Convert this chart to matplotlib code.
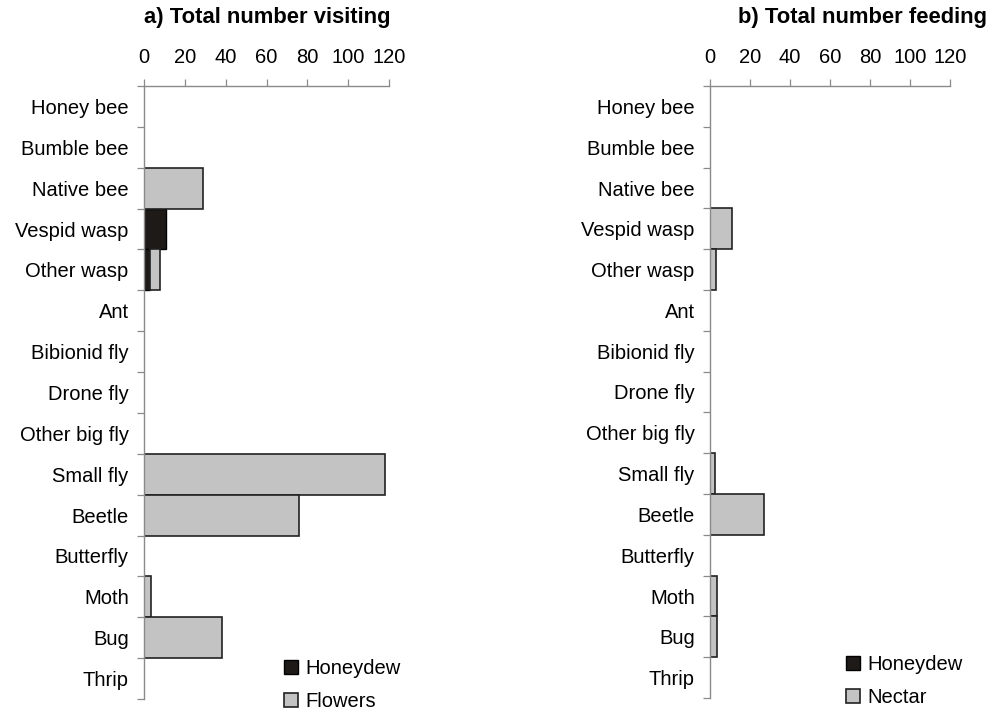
import numpy as np
import matplotlib.pyplot as plt
from matplotlib.ticker import FixedLocator
from matplotlib.patches import Patch

plt.rcParams['font.family'] = ['Liberation Sans', 'DejaVu Sans']

categories = ['Honey bee', 'Bumble bee', 'Native bee', 'Vespid wasp', 'Other wasp',
              'Ant', 'Bibionid fly', 'Drone fly', 'Other big fly', 'Small fly',
              'Beetle', 'Butterfly', 'Moth', 'Bug', 'Thrip']

# a) visiting
honeydew_a = [0, 0, 0, 11, 3, 0, 0, 0, 0, 0, 0, 0, 0, 0, 0]
flowers_a = [0, 0, 29, 0, 5, 0, 0, 0, 0, 118, 76, 0, 3.5, 38, 0]
# b) feeding
honeydew_b = [0, 0, 0, 0, 0, 0, 0, 0, 0, 0, 0, 0, 0, 0, 0]
nectar_b = [0, 0, 0, 11, 3, 0, 0, 0, 0, 2.5, 27, 0, 3.5, 3.5, 0]

xticks = [0, 20, 40, 60, 80, 100, 120]

dark = '#1e1a17'
light = '#c3c3c3'
spine_col = '#8a8a8a'

fig = plt.figure(figsize=(9.9, 7.1), dpi=100)
ax_a = fig.add_axes([144/990, 11/710, 245/990, 613/710])
ax_b = fig.add_axes([710/990, 12/710, 240/990, 612/710])


def panel(ax, hd, other):
    y = np.arange(len(categories))
    hd = np.array(hd, float)
    other = np.array(other, float)
    lw_hd = [1.0 if v > 0 else 0 for v in hd]
    lw_o = [1.2 if v > 0 else 0 for v in other]
    ax.barh(y, hd, height=1.0, color=dark, edgecolor='black', linewidth=lw_hd)
    ax.barh(y, other, left=hd, height=1.0, color=light, edgecolor='#222222', linewidth=lw_o)
    ax.set_xlim(0, 120)
    ax.set_ylim(len(categories) - 0.5, -0.5)
    ax.xaxis.tick_top()
    ax.set_xticks(xticks)
    ax.tick_params(axis='x', direction='out', length=5, width=0.9, color=spine_col,
                   pad=9, labelsize=14.5)
    ax.set_yticks(y)
    ax.set_yticklabels(categories)
    ax.yaxis.set_minor_locator(FixedLocator(np.arange(-0.5, len(categories), 1)))
    ax.tick_params(axis='y', which='major', length=0, pad=11, labelsize=14.5)
    ax.tick_params(axis='y', which='minor', length=5, width=0.9, color=spine_col)
    for s in ['right', 'bottom']:
        ax.spines[s].set_visible(False)
    for s in ['left', 'top']:
        ax.spines[s].set_color(spine_col)
        ax.spines[s].set_linewidth(1.0)


panel(ax_a, honeydew_a, flowers_a)
panel(ax_b, honeydew_b, nectar_b)

fig.text(267/990, 1 - 18/710, 'a) Total number visiting', ha='center', va='center',
         fontsize=15.8, fontweight='bold')
fig.text(862/990, 1 - 18/710, 'b) Total number feeding', ha='center', va='center',
         fontsize=15.8, fontweight='bold')

h_hd = Patch(facecolor=dark, edgecolor='black', linewidth=1.0)
h_lt = Patch(facecolor=light, edgecolor='#222222', linewidth=1.2)
leg_kw = dict(frameon=False, fontsize=14.5, handlelength=0.7, handleheight=0.7,
              handletextpad=0.35, labelspacing=0.7, borderpad=0, borderaxespad=0)
fig.legend([h_hd, h_lt], ['Honeydew', 'Flowers'], loc='upper left',
           bbox_to_anchor=(284/990, 1 - 659/710), **leg_kw)
fig.legend([h_hd, h_lt], ['Honeydew', 'Nectar'], loc='upper left',
           bbox_to_anchor=(846/990, 1 - 655/710), **leg_kw)

fig.savefig('out.png', dpi=100)
